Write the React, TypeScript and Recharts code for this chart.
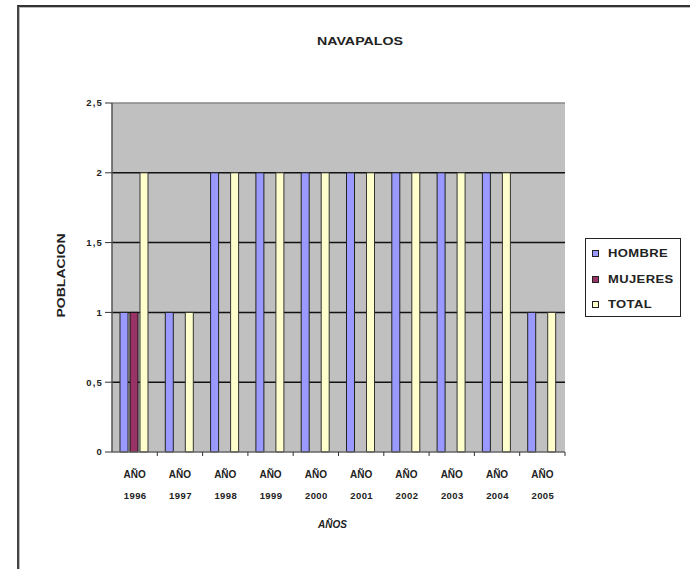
import React from 'react';
import { BarChart, Bar, XAxis, YAxis, CartesianGrid, ReferenceLine, Legend, Label } from 'recharts';

const years = ['1996', '1997', '1998', '1999', '2000', '2001', '2002', '2003', '2004', '2005'];
const hombre = [1, 1, 2, 2, 2, 2, 2, 2, 2, 1];
const mujeres = [1, 0, 0, 0, 0, 0, 0, 0, 0, 0];
const total = [2, 1, 2, 2, 2, 2, 2, 2, 2, 1];
const yTicks = [0, 0.5, 1, 1.5, 2, 2.5];
const seriesNames = ['HOMBRE', 'MUJERES', 'TOTAL'];
const seriesColors = ['#9999FF', '#993366', '#FFFFCC'];

const data = years.map((y, i) => ({
  year: y,
  HOMBRE: hombre[i],
  MUJERES: mujeres[i],
  TOTAL: total[i],
}));

const FONT = '"Liberation Sans", Arial, sans-serif';

const XTick = (props: any) => {
  const { x, y, payload } = props;
  const half = 45.3 / 2;
  return (
    <g>
      <line x1={x + half} y1={y} x2={x + half} y2={y + 4} stroke="#333" strokeWidth={1} />
      <text x={x} y={y + 26} textAnchor="middle" fontFamily={FONT} fontWeight="bold" fontSize={10} fill="#222">
        AÑO
      </text>
      <text x={x + 0.5} y={y + 47} textAnchor="middle" fontFamily={FONT} fontWeight="bold" fontSize={9.5} letterSpacing={0.4} fill="#222">
        {payload.value}
      </text>
    </g>
  );
};

const LegendBox = () => (
  <div
    style={{
      width: 96,
      height: 79,
      border: '1.5px solid #222',
      background: '#fff',
      boxSizing: 'border-box',
      padding: '2px 0 0 6px',
      fontFamily: FONT,
      fontWeight: 'bold',
      fontSize: 10,
      color: '#222',
    }}
  >
    {seriesNames.map((n, i) => (
      <div key={n} style={{ display: 'flex', alignItems: 'center', height: 25.5, whiteSpace: 'nowrap' }}>
        <span
          style={{
            display: 'inline-block',
            width: 5,
            height: 5,
            background: seriesColors[i],
            border: '1px solid #222',
            marginRight: 9,
          }}
        />
        <span style={{ display: 'inline-block', transform: 'scaleX(1.3)', transformOrigin: 'left center', letterSpacing: 0.3 }}>{n}</span>
      </div>
    ))}
  </div>
);

export default function App() {
  return (
    <div style={{ position: 'absolute', left: 0, top: 0, width: 690, height: 569, overflow: 'hidden', background: '#fff' }}>
      <div
        style={{
          position: 'absolute',
          left: 17,
          top: 5,
          width: 720,
          height: 620,
          borderTop: '2px solid #333',
          borderLeft: '2px solid #444',
          boxShadow: 'inset 1px 1px 0 #bbb',
        }}
      />
      <div style={{ position: 'absolute', left: 0, top: 0 }}>
        <BarChart
          width={690}
          height={569}
          data={data}
          margin={{ top: 103, right: 125, bottom: 0, left: 72 }}
          barCategoryGap={8}
          barGap={2}
        >
          <text
            x={360}
            y={45}
            textAnchor="middle"
            fontFamily={FONT}
            fontWeight="bold"
            fontSize={10}
            textLength={86}
            lengthAdjust="spacingAndGlyphs"
            fill="#222"
          >
            NAVAPALOS
          </text>
          <CartesianGrid
            horizontal={true}
            vertical={false}
            fill="#C0C0C0"
            stroke="#111"
            strokeWidth={1.5}
            horizontalValues={[0.5, 1, 1.5, 2]}
          />
          <ReferenceLine y={2.5} stroke="#888" strokeWidth={1.5} />
          <XAxis
            dataKey="year"
            height={117}
            tickLine={false}
            tickSize={0}
            tickMargin={0}
            axisLine={{ stroke: '#666', strokeWidth: 1.5 }}
            tick={<XTick />}
            interval={0}
          >
            <Label
              value="AÑOS"
              position="insideBottom"
              offset={41}
              dx={-6}
              style={{ fontFamily: FONT, fontWeight: 'bold', fontStyle: 'italic', fontSize: 10, fill: '#222' }}
            />
          </XAxis>
          <YAxis
            width={40}
            domain={[0, 2.5]}
            ticks={yTicks}
            interval={0}
            tickSize={7}
            tickMargin={2}
            tickLine={{ stroke: '#333' }}
            axisLine={{ stroke: '#555', strokeWidth: 1.5 }}
            tickFormatter={(v: number) => String(v).replace('.', ',')}
            tick={{ fontFamily: FONT, fontWeight: 'bold', fontSize: 9.5, letterSpacing: 1.2, fill: '#222' }}
          >
            <Label
              content={(p: any) => {
                const vb = p.viewBox;
                const cx = vb.x - 11;
                const cy = vb.y + vb.height / 2 - 2;
                return (
                  <text
                    x={cx}
                    y={cy}
                    transform={`rotate(-90 ${cx} ${cy})`}
                    textAnchor="middle"
                    dominantBaseline="central"
                    fontFamily={FONT}
                    fontWeight="bold"
                    fontSize={10}
                    textLength={84}
                    lengthAdjust="spacingAndGlyphs"
                    fill="#222"
                  >
                    POBLACION
                  </text>
                );
              }}
            />
          </YAxis>
          <Legend
            layout="vertical"
            align="center"
            verticalAlign="middle"
            content={() => <LegendBox />}
            wrapperStyle={{ left: 585, top: 238, width: 96, height: 79 }}
          />
          <Bar dataKey="HOMBRE" fill={seriesColors[0]} stroke="#222" strokeWidth={1} isAnimationActive={false} />
          <Bar dataKey="MUJERES" fill={seriesColors[1]} stroke="#111" strokeWidth={1} isAnimationActive={false} />
          <Bar dataKey="TOTAL" fill={seriesColors[2]} stroke="#333" strokeWidth={1} isAnimationActive={false} />
        </BarChart>
      </div>
    </div>
  );
}
